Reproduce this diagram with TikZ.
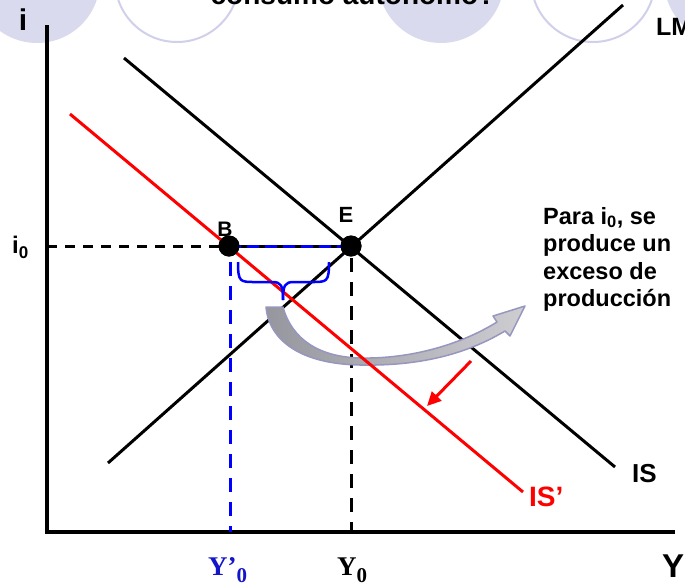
\documentclass[tikz,border=0pt]{standalone}
\usepackage{fontspec}
\setmainfont{Liberation Sans}
\newfontfamily\timesf{Liberation Serif}
\usetikzlibrary{arrows.meta}
\definecolor{lav}{RGB}{218,218,238}
\definecolor{lavline}{RGB}{208,208,234}
\definecolor{ptblue}{RGB}{0,0,255}
\definecolor{ytblue}{RGB}{20,20,200}
\definecolor{arrowedge}{RGB}{150,150,190}
\definecolor{arrowL}{RGB}{150,150,158}
\definecolor{arrowR}{RGB}{205,205,210}
\begin{document}
\begin{tikzpicture}[x=1pt,y=-1pt,
  curve/.style={line width=3pt},
  ptdot/.style={circle, fill=black, minimum size=21pt, inner sep=0pt},
  lbl/.style={inner sep=0pt, font=\bfseries\fontsize{#1}{#1}\selectfont},
  ylbl/.style={inner sep=0pt, font=\timesf\bfseries\fontsize{27}{27}\selectfont},
  dsh/.style={line width=3pt, dash pattern=on 10pt off 8pt},
  vdsh/.style={line width=3pt, dash pattern=on 14pt off 10pt}]
\useasboundingbox (0,0) rectangle (685,587);
\clip (0,0) rectangle (685,587);
% decorative circles
\fill[lav] (37,-20) circle (63);
\draw[lavline, line width=2pt] (177,-20) circle (62);
\fill[lav] (441,-20) circle (63);
\draw[lavline, line width=2pt] (593,-20) circle (62);
\fill[lav] (727,-20) circle (63);
\node[lbl=28, anchor=base] (title) at (353,4) {consumo autónomo?};
% coordinates
\coordinate (O) at (47,532);
\coordinate (Ytop) at (47,25);
\coordinate (Xend) at (675,532);
\coordinate (iA) at (47,246);
\node[ptdot] (B) at (229,246) {};
\node[ptdot] (E) at (351,246) {};
\coordinate (Bdown) at (230,262);
\coordinate (Yp) at (230,532);
\coordinate (Edown) at (351,258);
\coordinate (Y0) at (351,532);
\coordinate (LMa) at (108,463);
\coordinate (LMb) at (623,5);
\coordinate (ISa) at (124,58);
\coordinate (ISb) at (615,467);
\coordinate (ISpa) at (70,114);
\coordinate (ISpb) at (523,492);
\coordinate (ra) at (471,361);
\coordinate (rb) at (427,406);
% axes
\draw[line width=4pt] (Ytop) -- (O) -- (Xend);
% dashed guides
\draw[dsh] (iA) -- (E.center);
\draw[line width=3pt] (B.center) -- (E.center);
\draw[line width=3pt, ptblue, dash pattern=on 12pt off 6pt] (B.center) -- (E.center);
\draw[vdsh, ptblue] (Bdown) -- (Yp);
\draw[vdsh] (Edown) -- (Y0);
% curves
\draw[curve] (LMa) -- (LMb);
\draw[curve] (ISa) -- (ISb);
% gray curved arrow
\shade[left color=arrowL, right color=arrowR, draw=arrowedge, line width=1.5pt, line join=round]
  (266,307) -- (283,307)
  .. controls (292,340) and (320,357) .. (360,358)
  .. controls (410,359) and (460,345) .. (497,322)
  -- (493,316) -- (525,306) -- (510,336) -- (505,331)
  .. controls (460,358) and (410,366) .. (360,365)
  .. controls (300,364) and (269,340) .. (266,307) -- cycle;
% shifted IS
\draw[curve, red] (ISpa) -- (ISpb);
\draw[red, line width=3pt, -{Triangle[length=14pt,width=13pt]}] (ra) -- (rb);
% brace
\draw[ptblue, line width=2.5pt, line join=round]
  (238,262) .. controls (238,282) and (240,282) .. (255,282) -- (272,282)
  .. controls (281,282) and (283,285) .. (283,300);
\draw[ptblue, line width=2.5pt, line join=round]
  (329,262) .. controls (329,282) and (327,282) .. (312,282) -- (294,282)
  .. controls (285,282) and (283,285) .. (283,300);
% points on top
\node[ptdot] at (B) {};
\node[ptdot] at (E) {};
% labels
\node[lbl=21, anchor=base] (Bl) at (225,236) {B};
\node[lbl=22, anchor=base] (El) at (346,222) {E};
\node[lbl=30, anchor=base] (il) at (23,30) {i};
\node[lbl=24, anchor=base west] (i0) at (12,253) {i\raisebox{-5pt}{\fontsize{17}{17}\selectfont 0}};
\node[lbl=25, anchor=base west] (LMl) at (656,35) {LM};
\node[lbl=26, anchor=base west] (ISl) at (632,482) {IS};
\node[lbl=28, anchor=base west, text=red] (ISpl) at (529,506) {IS’};
\node[lbl=33, anchor=base] (Yl) at (673,577) {Y};
\node[ylbl, anchor=base west, text=ytblue] (Ypl) at (208,575) {Y’\raisebox{-7pt}{\fontsize{21}{21}\selectfont 0}};
\node[ylbl, anchor=base west] (Y0l) at (337,575) {Y\raisebox{-7pt}{\fontsize{21}{21}\selectfont 0}};
\node[inner sep=0pt, anchor=north west, align=left, font=\bfseries\fontsize{23.5}{27.5}\selectfont] (txt) at (543,207)
  {Para i\textsubscript{0}, se\\produce un\\exceso de\\producción};
\end{tikzpicture}
\end{document}
